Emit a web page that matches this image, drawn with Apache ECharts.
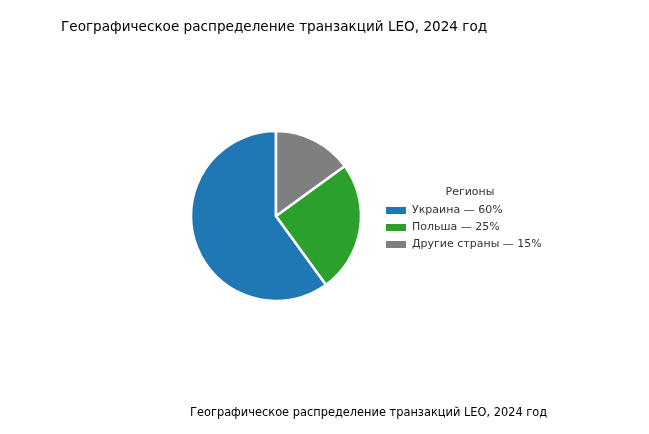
<!DOCTYPE html>
<html><head><meta charset="utf-8">
<script src="https://cdn.jsdelivr.net/npm/echarts@6/dist/echarts.min.js"></script>
<style>html,body{margin:0;background:#fff}#c{width:649px;height:434px}</style>
</head><body><div id="c"></div>
<script>
const regions = ['Украина', 'Польша', 'Другие страны'];
const shares = [60, 25, 15];
const colors = ['#1f77b4', '#2ca02c', '#7f7f7f'];

const chart = echarts.init(document.getElementById('c'));
const font = 'DejaVu Sans';
chart.setOption({
  textStyle: { fontFamily: font },
  title: [
    { text: 'Географическое распределение транзакций LEO, 2024 год', left: 56, top: 15,
      textStyle: { fontFamily: font, fontSize: 13.6, fontWeight: 'normal', color: '#000' } },
    { text: 'Регионы', left: 465, top: 182, textAlign: 'center',
      textStyle: { fontFamily: font, fontSize: 11, fontWeight: 'normal', color: '#333' } },
    { text: 'Географическое распределение транзакций LEO, 2024 год', left: 185, top: 403,
      textStyle: { fontFamily: font, fontSize: 11.4, fontWeight: 'normal', color: '#000' } }
  ],
  legend: {
    orient: 'vertical', left: 379, top: 200, itemWidth: 22, itemHeight: 9, itemGap: 6,
    icon: 'rect',
    textStyle: { fontFamily: font, fontSize: 11, color: '#333' },
    formatter: name => name + ' — ' + shares[regions.indexOf(name)] + '%'
  },
  series: [{
    type: 'pie', center: [276, 216], radius: 85, startAngle: 90, clockwise: false,
    label: { show: false }, labelLine: { show: false }, silent: true,
    itemStyle: { borderColor: '#fff', borderWidth: 2.5 },
    data: regions.map((r, i) => ({ name: r, value: shares[i], itemStyle: { color: colors[i] } }))
  }]
});
</script></body></html>
